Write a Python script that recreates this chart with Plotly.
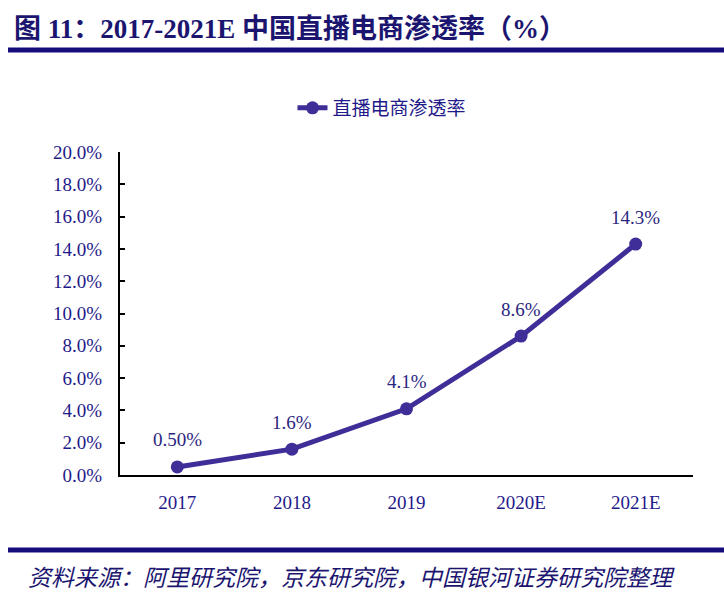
import plotly.graph_objects as go

categories = ["2017", "2018", "2019", "2020E", "2021E"]
values = [0.005, 0.016, 0.041, 0.086, 0.143]
labels = ["0.50%", "1.6%", "4.1%", "8.6%", "14.3%"]
series_name = "直播电商渗透率"
title_text = "图 11：2017-2021E 中国直播电商渗透率（%）"
source_text = "资料来源：阿里研究院，京东研究院，中国银河证券研究院整理"

W, H = 724, 609
L, R, T, B = 120, 31, 152, 134
pw, ph = W - L - R, H - T - B

def px(x):
    return (x - L) / pw

def py(y):
    return (H - B - y) / ph

navy = "#1f1a8a"
line_color = "#3f2e98"
serif = "Liberation Serif, Times New Roman, serif"
cjk = "Noto Sans CJK SC, sans-serif"

fig = go.Figure()
fig.add_trace(go.Scatter(
    x=categories, y=values, name=series_name, mode="lines+markers",
    line=dict(color=line_color, width=5),
    marker=dict(color=line_color, size=13),
))

for i, (v, t) in enumerate(zip(values, labels)):
    fig.add_annotation(x=i, y=v, text=t, showarrow=False, yshift=27,
                       font=dict(family=serif, size=19, color="#2b2680"))

fig.add_annotation(xref="paper", yref="paper", x=px(12), y=py(29), xanchor="left", yanchor="middle",
                   text="<b>" + title_text + "</b>", showarrow=False,
                   font=dict(family="Liberation Serif, Noto Sans CJK SC", size=27, color="#1b1570"))
fig.add_annotation(xref="paper", yref="paper", x=px(26), y=py(576), xanchor="left", yanchor="middle",
                   text="<i>" + source_text + "</i>", showarrow=False,
                   font=dict(family=cjk, size=23, color="#1b1570"))

fig.add_shape(type="line", xref="paper", yref="paper", x0=px(8), x1=px(724), y0=py(50), y1=py(50),
              line=dict(color="#170c7c", width=5))
fig.add_shape(type="line", xref="paper", yref="paper", x0=px(8), x1=px(724), y0=py(550), y1=py(550),
              line=dict(color="#170c7c", width=5))

fig.update_layout(
    width=W, height=H, margin=dict(l=L, r=R, t=T, b=B),
    paper_bgcolor="white", plot_bgcolor="white",
    showlegend=True,
    legend=dict(orientation="h", x=px(382), y=py(108), xanchor="center", yanchor="middle",
                font=dict(family=cjk, size=19, color=navy), bgcolor="rgba(0,0,0,0)"),
    xaxis=dict(type="category", range=[-0.5, 4.5], showline=True, linecolor="black", linewidth=2,
               showgrid=False, ticks="", tickfont=dict(family=serif, size=19, color=navy),
               ticklabelstandoff=9),
    yaxis=dict(range=[0, 0.2], dtick=0.02, tickformat=".1%", showline=True, linecolor="black",
               linewidth=2, showgrid=False, zeroline=False, ticks="inside", ticklen=5,
               tickcolor="black", tickwidth=2,
               tickfont=dict(family=serif, size=19, color=navy), ticklabelstandoff=12),
)

fig.write_html("out.html")
